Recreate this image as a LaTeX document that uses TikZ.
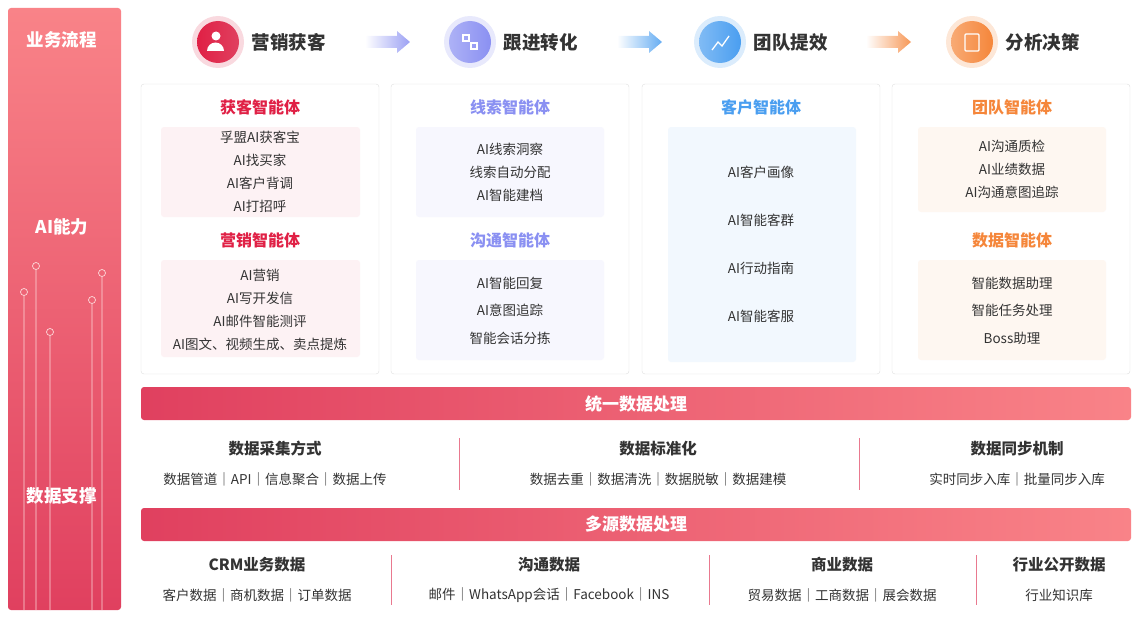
\documentclass[tikz,border=0pt]{standalone}
\usepackage{fontspec}
\setmainfont{Noto Sans CJK SC}
\usetikzlibrary{arrows.meta}
\definecolor{redA}{HTML}{E0405F}
\definecolor{redB}{HTML}{F98388}
\definecolor{redT}{HTML}{E02045}
\definecolor{violetT}{HTML}{8A90F2}
\definecolor{blueT}{HTML}{4A9EF0}
\definecolor{orangeT}{HTML}{F5863A}
\definecolor{txt}{HTML}{333333}
\tikzset{
  card/.style={draw=gray!25, fill=white, rounded corners=3pt},
  inbox/.style={rounded corners=3pt},
  ttl/.style={font=\bfseries\fontsize{16}{16}\selectfont},
  item/.style={font=\fontsize{13.5}{14}\selectfont, text=txt},
  head/.style={font=\bfseries\fontsize{15.5}{16}\selectfont, text=txt},
  steplabel/.style={font=\bfseries\fontsize{18.5}{18}\selectfont, text=txt, anchor=west},
  side/.style={font=\bfseries\fontsize{17.5}{18}\selectfont, text=white},
  band/.style={font=\bfseries\fontsize{17}{17}\selectfont, text=white},
  sep/.style={draw=redA!70, line width=0.8pt},
}
\begin{document}
\begin{tikzpicture}[x=1pt,y=-1pt]
  \useasboundingbox (0,0) rectangle (1143,618);
  % side bar
  \shade[top color=redB, bottom color=redA, rounded corners=3pt] (8,8) rectangle (121,610);
  \node[side] (s1) at (62,40) {业务流程};
  \node[side] (s2) at (62,227) {AI能力};
  \node[side] (s3) at (62,496) {数据支撑};
  \foreach \x/\y in {24/292, 36/266, 50/332, 92/300, 102/273}
    \draw[white!70!redB, line width=0.7pt] (\x,\y) circle (3.5) (\x,\y+3.5) -- (\x,610);

  % process steps
  \foreach \n/\x/\ca/\cb/\t in {p1/218/redA/redT/营销获客, p2/470/violetT/violetT!70/跟进转化, p3/720/blueT/blueT!70/团队提效, p4/972/orangeT/orangeT!70/分析决策}{
    \fill[\ca!20] (\x,42) circle (26);
    \shade[left color=\cb, right color=\ca] (\x,42) circle (21);
    \node[steplabel] (\n) at (\x+30,42) {\t};
  }
  \fill[white] (216,36) circle (4.5) (207,51) arc (180:360:8.5) -- cycle;
  \draw[white, line width=1.3pt] (463,35) rectangle +(6,6) (471,43) rectangle +(6,6);
  \draw[white, line width=1.3pt] (712,50) -- (718,42) -- (722,46) -- (729,36);
  \draw[white, line width=1.3pt, rounded corners=1pt] (965,34) rectangle (979,51);
  \foreach \x/\c in {365/violetT, 617/blueT, 866/orangeT}
    \shade[left color=white, right color=\c!85] (\x,36) -- (\x+32,36) -- (\x+32,31) -- (\x+45,42) -- (\x+32,53) -- (\x+32,48) -- (\x,48) -- cycle;

  % cards
  \foreach \x in {141,391,642,892}
    \draw[card] (\x,84) rectangle +(238,290);

  % column 1
  \node[ttl, text=redT] (c1a) at (260,107) {获客智能体};
  \fill[inbox, redA!7] (161,127) rectangle (360,217);
  \foreach \t [count=\i] in {孚盟AI获客宝, AI找买家, AI客户背调, AI打招呼}
    \node[item] at (260,114+23*\i) {\t};
  \node[ttl, text=redT] (c1b) at (260,240) {营销智能体};
  \fill[inbox, redA!7] (161,260) rectangle (360,357);
  \foreach \t [count=\i] in {AI营销, AI写开发信, AI邮件智能测评, AI图文、视频生成、卖点提炼}
    \node[item] at (260,252+23*\i) {\t};

  % column 2
  \node[ttl, text=violetT] (c2a) at (510,107) {线索智能体};
  \fill[inbox, violetT!7] (416,127) rectangle (604,217);
  \foreach \t [count=\i] in {AI线索洞察, 线索自动分配, AI智能建档}
    \node[item] at (510,126+23*\i) {\t};
  \node[ttl, text=violetT] (c2b) at (510,240) {沟通智能体};
  \fill[inbox, violetT!7] (416,260) rectangle (604,360);
  \foreach \t/\y in {AI智能回复/283, AI意图追踪/310, 智能会话分拣/338}
    \node[item] at (510,\y) {\t};

  % column 3
  \node[ttl, text=blueT] (c3a) at (761,107) {客户智能体};
  \fill[inbox, blueT!7] (668,127) rectangle (856,362);
  \foreach \t [count=\i] in {AI客户画像, AI智能客群, AI行动指南, AI智能客服}
    \node[item] at (761,124+48*\i) {\t};

  % column 4
  \node[ttl, text=orangeT] (c4a) at (1012,107) {团队智能体};
  \fill[inbox, orangeT!7] (918,127) rectangle (1106,212);
  \foreach \t [count=\i] in {AI沟通质检, AI业绩数据, AI沟通意图追踪}
    \node[item] at (1012,123+23*\i) {\t};
  \node[ttl, text=orangeT] (c4b) at (1012,240) {数据智能体};
  \fill[inbox, orangeT!7] (918,260) rectangle (1106,360);
  \foreach \t/\y in {智能数据助理/283, 智能任务处理/310, Boss助理/338}
    \node[item] at (1012,\y) {\t};

  % unified data band
  \shade[left color=redA, right color=redB, rounded corners=3pt] (141,387) rectangle (1131,420);
  \node[band] (b1) at (636,404) {统一数据处理};
  \node[head] (h1) at (275,449) {数据采集方式};
  \node[item] at (275,479) {数据管道｜API｜信息聚合｜数据上传};
  \node[head] (h2) at (658,449) {数据标准化};
  \node[item] at (658,479) {数据去重｜数据清洗｜数据脱敏｜数据建模};
  \node[head] (h3) at (1017,449) {数据同步机制};
  \node[item] at (1017,479) {实时同步入库｜批量同步入库};
  \foreach \x in {459,859}
    \draw[sep] (\x,438) -- (\x,490);

  % multi-source band
  \shade[left color=redA, right color=redB, rounded corners=3pt] (141,508) rectangle (1131,541);
  \node[band] (b2) at (636,524) {多源数据处理};
  \node[head] (g1) at (257,565) {CRM业务数据};
  \node[item] at (257,595) {客户数据｜商机数据｜订单数据};
  \node[head] (g2) at (549,565) {沟通数据};
  \node[item] at (549,595) {邮件｜WhatsApp会话｜Facebook｜INS};
  \node[head] (g3) at (842,565) {商业数据};
  \node[item] at (842,595) {贸易数据｜工商数据｜展会数据};
  \node[head] (g4) at (1059,565) {行业公开数据};
  \node[item] at (1059,595) {行业知识库};
  \foreach \x in {391,709,976}
    \draw[sep] (\x,555) -- (\x,605);
\end{tikzpicture}
\end{document}
